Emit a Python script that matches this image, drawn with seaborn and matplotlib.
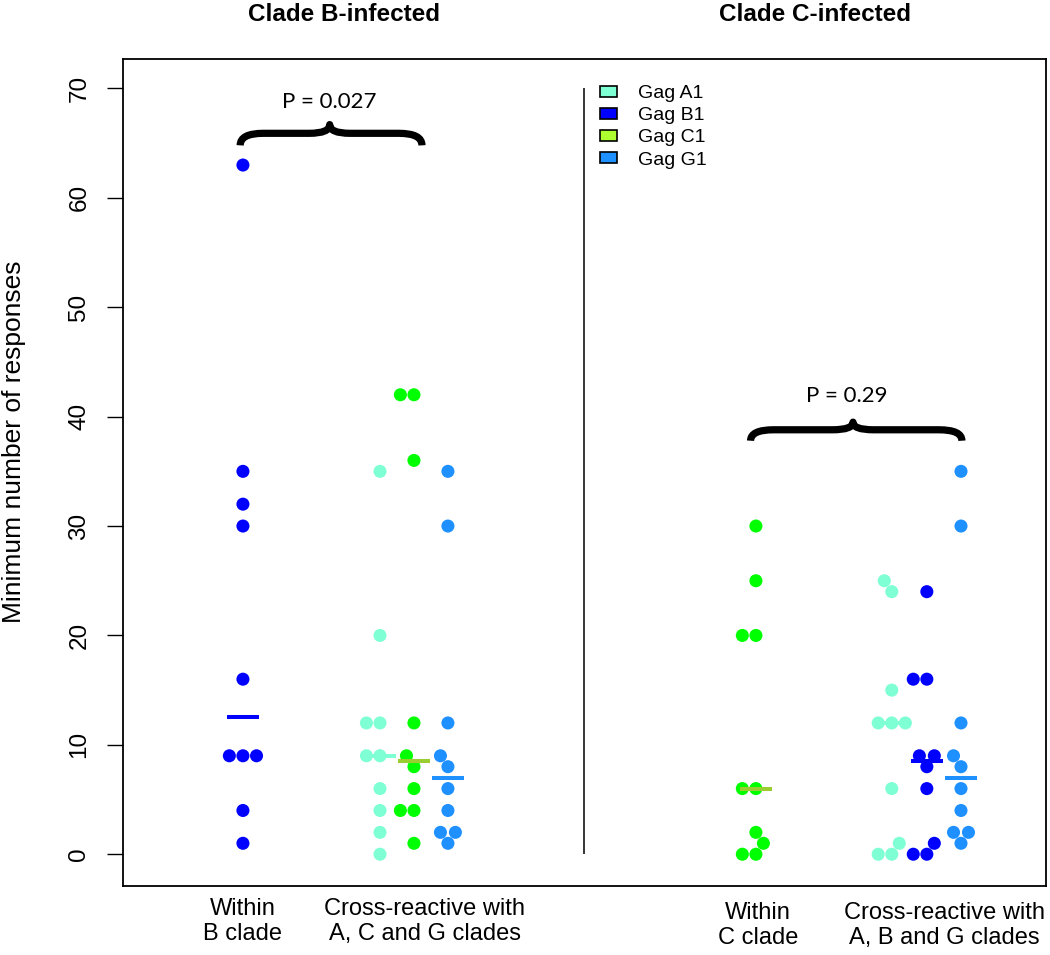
import numpy as np
import pandas as pd
import matplotlib
matplotlib.use('Agg')
import matplotlib.pyplot as plt
import matplotlib.transforms as mtransforms
from matplotlib.path import Path
from matplotlib.patches import PathPatch, Patch
from matplotlib import font_manager
import seaborn as sns

# minimum number of responses per subject
b_within_b1 = [63, 35, 32, 30, 16, 9, 9, 9, 4, 1]
b_cross_a1 = [35, 20, 12, 12, 9, 9, 6, 4, 2, 0]
b_cross_c1 = [42, 42, 36, 12, 9, 8, 6, 4, 4, 1]
b_cross_g1 = [35, 30, 12, 9, 8, 6, 4, 2, 2, 1]
c_within_c1 = [30, 25, 20, 20, 6, 6, 2, 1, 0, 0]
c_cross_a1 = [25, 24, 15, 12, 12, 12, 6, 1, 0, 0]
c_cross_b1 = [24, 16, 16, 9, 9, 8, 6, 1, 0, 0]
c_cross_g1 = [35, 30, 12, 9, 8, 6, 4, 2, 2, 1]

antigens = ['Gag A1', 'Gag B1', 'Gag C1', 'Gag G1']
group_labels = ['Within\nB clade', 'Cross-reactive with\nA, C and G clades',
                'Within\nC clade', 'Cross-reactive with\nA, B and G clades']
panel_titles = ['Clade B-infected', 'Clade C-infected']
p_labels = ['P = 0.027', 'P = 0.29']
y_ticks = [0, 10, 20, 30, 40, 50, 60, 70]

# colours
point_colors = {'Gag A1': 'aquamarine', 'Gag B1': 'blue', 'Gag C1': 'lime', 'Gag G1': 'dodgerblue'}
median_colors = {'Gag A1': 'aquamarine', 'Gag B1': 'blue', 'Gag C1': 'yellowgreen', 'Gag G1': 'dodgerblue'}
legend_colors = {'Gag A1': 'aquamarine', 'Gag B1': 'blue', 'Gag C1': 'greenyellow', 'Gag G1': 'dodgerblue'}

# column layout (x position, antigen, values)
columns = [
    (1.30, 'Gag B1', b_within_b1),
    (2.785, 'Gag A1', b_cross_a1),
    (3.153, 'Gag C1', b_cross_c1),
    (3.521, 'Gag G1', b_cross_g1),
    (6.858, 'Gag C1', c_within_c1),
    (8.33, 'Gag A1', c_cross_a1),
    (8.71, 'Gag B1', c_cross_b1),
    (9.08, 'Gag G1', c_cross_g1),
]

rows = []
for pos, ag, vals in columns:
    for v in vals:
        rows.append({'pos': pos, 'antigen': ag, 'responses': v})
df = pd.DataFrame(rows)

sns.set_theme(style='white', rc={
    'axes.edgecolor': 'black', 'axes.labelcolor': 'black', 'text.color': 'black',
    'xtick.color': 'black', 'ytick.color': 'black', 'axes.linewidth': 1.3,
})
plt.rcParams['font.family'] = ['Liberation Sans', 'DejaVu Sans']

installed = {f.name for f in font_manager.fontManager.ttflist}
p_font = 'Liberation Sans Narrow' if 'Liberation Sans Narrow' in installed else 'Lato'
p_size = 18 if p_font == 'Liberation Sans Narrow' else 16

fig = plt.figure(figsize=(10.5, 9.55), dpi=100)
ax = fig.add_axes([0.1171, 0.0723, 0.8790, 0.8660])

sns.swarmplot(data=df, x='pos', y='responses', hue='antigen', palette=point_colors,
              native_scale=True, orient='x', size=9.4, linewidth=0, legend=False,
              warn_thresh=1.0, ax=ax, zorder=3)

# median bars
for pos, ag, vals in columns:
    ax.hlines(np.median(vals), pos - 0.17, pos + 0.17, color=median_colors[ag], lw=2.9, zorder=4)

ax.set_xlim(0, 10)
ax.set_ylim(-2.9, 72.7)
ax.set_xticks([])
ax.set_yticks(y_ticks)
ax.tick_params(axis='y', length=11.5, width=1, pad=12, labelsize=17.5, labelrotation=90, left=True)
for lab in ax.get_yticklabels():
    lab.set_va('center')
for s in ax.spines.values():
    s.set_visible(True)
    s.set_color('black')
ax.set_xlabel('')
ax.set_ylabel('Minimum number of responses', fontsize=19)
ax.yaxis.set_label_coords(-0.105, 0.537)

# divider between the two panels
ax.vlines(5.0, 0, 70, color='black', lw=1.1)

trans = mtransforms.blended_transform_factory(ax.transData, ax.transAxes)

# panel titles
for x, t in zip([2.39, 7.5], panel_titles):
    ax.text(x, 1.046, t, transform=trans, ha='center', va='baseline',
            fontsize=17.5, fontweight='bold')

# group labels under the axis
for x, y, t in zip([1.30, 3.27, 6.88, 8.9], [-0.0145, -0.0145, -0.0194, -0.0194], group_labels):
    ax.text(x, y, t, transform=trans, ha='center', va='top', fontsize=17)


def draw_brace(ax, x0, x1, xc, y_tip, y_bar, y_cusp, r=0.25, r2=0.22):
    verts = [(x0, y_tip), (x0, y_bar), (x0 + r, y_bar),
             (xc - r2, y_bar), (xc, y_bar), (xc, y_cusp),
             (xc, y_bar), (xc + r2, y_bar),
             (x1 - r, y_bar), (x1, y_bar), (x1, y_tip)]
    codes = [Path.MOVETO, Path.CURVE3, Path.CURVE3, Path.LINETO, Path.CURVE3, Path.CURVE3,
             Path.CURVE3, Path.CURVE3, Path.LINETO, Path.CURVE3, Path.CURVE3]
    ax.add_patch(PathPatch(Path(verts, codes), fill=False, lw=5.2, edgecolor='black',
                           capstyle='butt', joinstyle='round', zorder=5))


draw_brace(ax, 1.27, 3.24, 2.24, 64.8, 65.9, 66.7)
draw_brace(ax, 6.80, 9.09, 7.91, 37.8, 38.8, 39.5)

ax.text(2.23, 68.25, p_labels[0], ha='center', va='baseline', fontsize=p_size, family=p_font)
ax.text(7.84, 41.35, p_labels[1], ha='center', va='baseline', fontsize=p_size, family=p_font)

# legend
handles = [Patch(facecolor=legend_colors[a], edgecolor='black', linewidth=1.2, label=a) for a in antigens]
ax.legend(handles=handles, loc='upper left', bbox_to_anchor=(0.517, 0.968), frameon=False,
          fontsize=14, handlelength=0.85, handleheight=0.5, handletextpad=1.1,
          labelspacing=0.26, borderpad=0, borderaxespad=0)

fig.savefig('out.png', dpi=100)
